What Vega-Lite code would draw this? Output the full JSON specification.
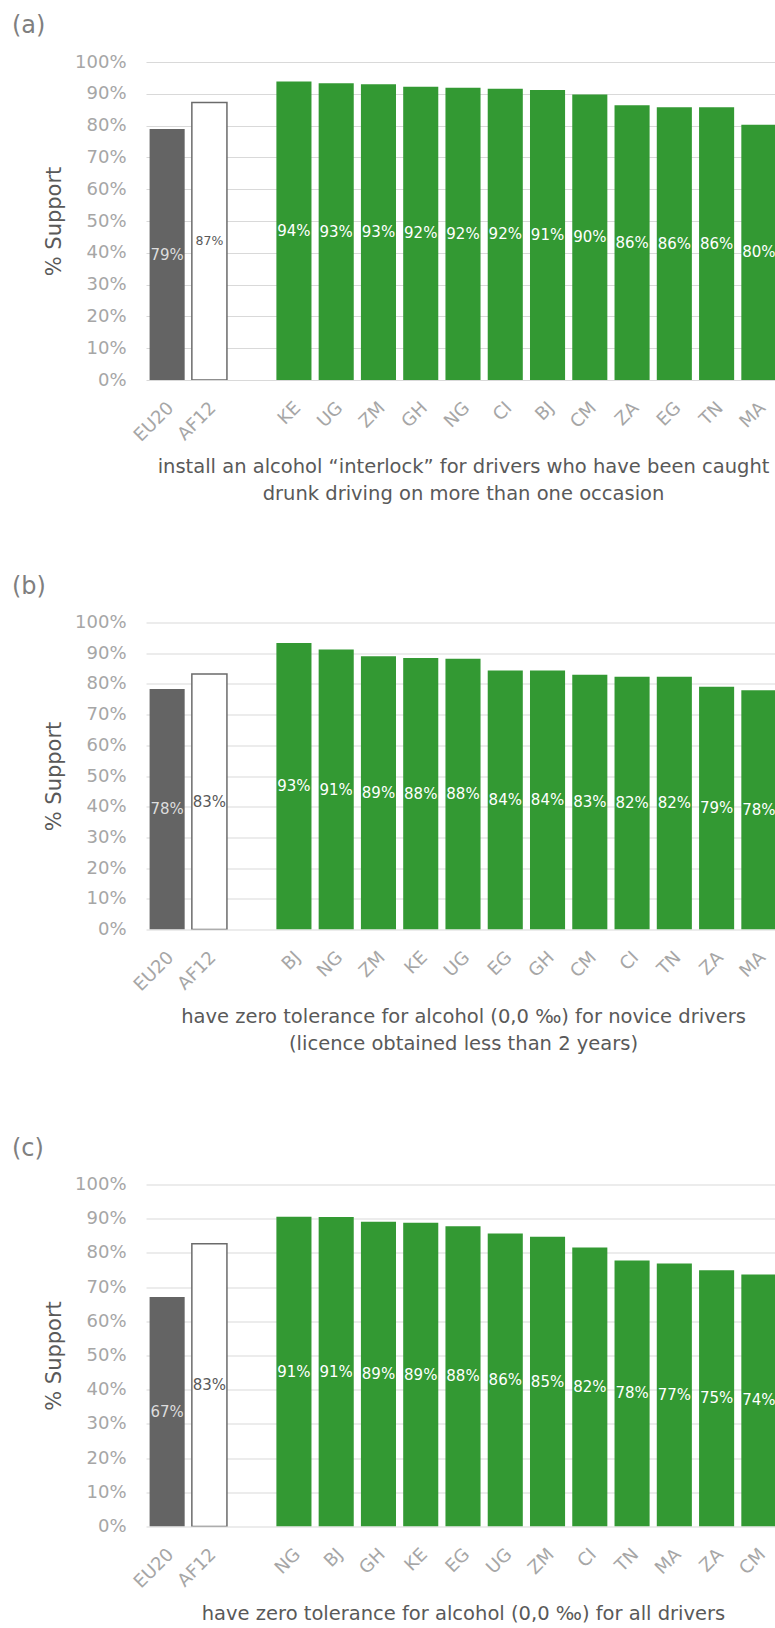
{
  "$schema": "https://vega.github.io/schema/vega-lite/v6.json",
  "padding": {"left": 12, "top": 14, "right": 0, "bottom": 0},
  "background": "#ffffff",
  "config": {
    "font": "DejaVu Sans",
    "view": {"stroke": null},
    "title": {"anchor": "start", "frame": "group", "dx": -134, "fontSize": 24, "fontWeight": "normal", "color": "#7f7f7f", "offset": 15},
    "axisX": {"labelAngle": -45, "labelAlign": "right", "labelBaseline": "middle", "labelFontSize": 18, "labelColor": "#a6a6a6", "labelPadding": 25, "labelOffset": 4, "ticks": false, "domain": false, "grid": false, "titleFontSize": 19.5, "titleColor": "#595959", "titleFontWeight": "normal", "titleLineHeight": 27, "titlePadding": 13},
    "axisY": {"labelFontSize": 18, "labelColor": "#a6a6a6", "labelPadding": 20, "ticks": false, "domain": false, "gridColor": "#d9d9d9", "titleFontSize": 21, "titleColor": "#595959", "titleFontWeight": "normal", "titlePadding": 10}
  },
  "datasets": {
    "a": [
      {"c": "EU20", "g": "EU", "v": 0.789},
      {"c": "AF12", "g": "AF", "v": 0.873},
      {"c": "KE", "g": "C", "v": 0.939},
      {"c": "UG", "g": "C", "v": 0.933},
      {"c": "ZM", "g": "C", "v": 0.930},
      {"c": "GH", "g": "C", "v": 0.922},
      {"c": "NG", "g": "C", "v": 0.919},
      {"c": "CI", "g": "C", "v": 0.916},
      {"c": "BJ", "g": "C", "v": 0.912},
      {"c": "CM", "g": "C", "v": 0.898},
      {"c": "ZA", "g": "C", "v": 0.864},
      {"c": "EG", "g": "C", "v": 0.858},
      {"c": "TN", "g": "C", "v": 0.858},
      {"c": "MA", "g": "C", "v": 0.803}
    ],
    "b": [
      {"c": "EU20", "g": "EU", "v": 0.783},
      {"c": "AF12", "g": "AF", "v": 0.832},
      {"c": "BJ", "g": "C", "v": 0.933},
      {"c": "NG", "g": "C", "v": 0.912},
      {"c": "ZM", "g": "C", "v": 0.890},
      {"c": "KE", "g": "C", "v": 0.884},
      {"c": "UG", "g": "C", "v": 0.882},
      {"c": "EG", "g": "C", "v": 0.844},
      {"c": "GH", "g": "C", "v": 0.844},
      {"c": "CM", "g": "C", "v": 0.830},
      {"c": "CI", "g": "C", "v": 0.823},
      {"c": "TN", "g": "C", "v": 0.823},
      {"c": "ZA", "g": "C", "v": 0.791},
      {"c": "MA", "g": "C", "v": 0.779}
    ],
    "c": [
      {"c": "EU20", "g": "EU", "v": 0.671},
      {"c": "AF12", "g": "AF", "v": 0.827},
      {"c": "NG", "g": "C", "v": 0.906},
      {"c": "BJ", "g": "C", "v": 0.905},
      {"c": "GH", "g": "C", "v": 0.891},
      {"c": "KE", "g": "C", "v": 0.888},
      {"c": "EG", "g": "C", "v": 0.878},
      {"c": "UG", "g": "C", "v": 0.857},
      {"c": "ZM", "g": "C", "v": 0.847},
      {"c": "CI", "g": "C", "v": 0.816},
      {"c": "TN", "g": "C", "v": 0.778},
      {"c": "MA", "g": "C", "v": 0.769},
      {"c": "ZA", "g": "C", "v": 0.749},
      {"c": "CM", "g": "C", "v": 0.737}
    ]
  },
  "vconcat": [
    {
      "spacing": 70.5,
      "vconcat": [
        {
          "width": 629, "height": 318,
          "title": "(a)",
          "data": {"name": "a"},
          "encoding": {
            "x": {"field": "c", "type": "nominal",
              "scale": {"domain": ["EU20", "AF12", " ", "KE", "UG", "ZM", "GH", "NG", "CI", "BJ", "CM", "ZA", "EG", "TN", "MA"], "range": [0, 634], "paddingInner": 0.17, "paddingOuter": 0.085},
              "axis": {"title": ["install an alcohol \u201cinterlock\u201d for drivers who have been caught", "drunk driving on more than one occasion"]}}
          },
          "layer": [
            {"mark": {"type": "bar", "clip": true, "stroke": "#6b6b6b"},
             "encoding": {
               "y": {"field": "v", "type": "quantitative", "scale": {"domain": [0, 1]}, "axis": {"values": [0, 0.1, 0.2, 0.3, 0.4, 0.5, 0.6, 0.7, 0.8, 0.9, 1], "format": ".0%", "title": "% Support"}},
               "color": {"field": "g", "type": "nominal", "scale": {"domain": ["EU", "AF", "C"], "range": ["#646464", "#ffffff", "#339933"]}, "legend": null},
               "strokeWidth": {"condition": {"test": "datum.g === 'AF'", "value": 1.5}, "value": 0}
             }},
            {"mark": {"type": "text", "clip": true, "fontSize": 15, "align": "center", "baseline": "middle"},
             "encoding": {
               "y": {"field": "v", "type": "quantitative", "scale": {"domain": [0, 2]}, "axis": null},
               "text": {"field": "v", "type": "quantitative", "format": ".0%"},
               "size": {"condition": {"test": "datum.g === 'AF'", "value": 12.5}, "value": 15},
               "color": {"condition": [{"test": "datum.g === 'EU'", "value": "#dddddd"}, {"test": "datum.g === 'AF'", "value": "#595959"}], "value": "#ffffff"}
             }}
          ],
          "resolve": {"scale": {"y": "independent"}}
        },
        {
          "width": 629, "height": 307,
          "title": "(b)",
          "data": {"name": "b"},
          "encoding": {
            "x": {"field": "c", "type": "nominal",
              "scale": {"domain": ["EU20", "AF12", " ", "BJ", "NG", "ZM", "KE", "UG", "EG", "GH", "CM", "CI", "TN", "ZA", "MA"], "range": [0, 634], "paddingInner": 0.17, "paddingOuter": 0.085},
              "axis": {"title": ["have zero tolerance for alcohol (0,0 \u2030) for novice drivers", "(licence obtained less than 2 years)"]}}
          },
          "layer": [
            {"mark": {"type": "bar", "clip": true, "stroke": "#6b6b6b"},
             "encoding": {
               "y": {"field": "v", "type": "quantitative", "scale": {"domain": [0, 1]}, "axis": {"values": [0, 0.1, 0.2, 0.3, 0.4, 0.5, 0.6, 0.7, 0.8, 0.9, 1], "format": ".0%", "title": "% Support"}},
               "color": {"field": "g", "type": "nominal", "scale": {"domain": ["EU", "AF", "C"], "range": ["#646464", "#ffffff", "#339933"]}, "legend": null},
               "strokeWidth": {"condition": {"test": "datum.g === 'AF'", "value": 1.5}, "value": 0}
             }},
            {"mark": {"type": "text", "clip": true, "fontSize": 15, "align": "center", "baseline": "middle"},
             "encoding": {
               "y": {"field": "v", "type": "quantitative", "scale": {"domain": [0, 2]}, "axis": null},
               "text": {"field": "v", "type": "quantitative", "format": ".0%"},
               "color": {"condition": [{"test": "datum.g === 'EU'", "value": "#dddddd"}, {"test": "datum.g === 'AF'", "value": "#595959"}], "value": "#ffffff"}
             }}
          ],
          "resolve": {"scale": {"y": "independent"}}
        }
      ]
    },
    {
      "width": 629, "height": 342,
      "title": "(c)",
      "data": {"name": "c"},
      "encoding": {
        "x": {"field": "c", "type": "nominal",
          "scale": {"domain": ["EU20", "AF12", " ", "NG", "BJ", "GH", "KE", "EG", "UG", "ZM", "CI", "TN", "MA", "ZA", "CM"], "range": [0, 634], "paddingInner": 0.17, "paddingOuter": 0.085},
          "axis": {"title": "have zero tolerance for alcohol (0,0 \u2030) for all drivers"}}
      },
      "layer": [
        {"mark": {"type": "bar", "clip": true, "stroke": "#6b6b6b"},
         "encoding": {
           "y": {"field": "v", "type": "quantitative", "scale": {"domain": [0, 1]}, "axis": {"values": [0, 0.1, 0.2, 0.3, 0.4, 0.5, 0.6, 0.7, 0.8, 0.9, 1], "format": ".0%", "title": "% Support"}},
           "color": {"field": "g", "type": "nominal", "scale": {"domain": ["EU", "AF", "C"], "range": ["#646464", "#ffffff", "#339933"]}, "legend": null},
           "strokeWidth": {"condition": {"test": "datum.g === 'AF'", "value": 1.5}, "value": 0}
         }},
        {"mark": {"type": "text", "clip": true, "fontSize": 15, "align": "center", "baseline": "middle"},
         "encoding": {
           "y": {"field": "v", "type": "quantitative", "scale": {"domain": [0, 2]}, "axis": null},
           "text": {"field": "v", "type": "quantitative", "format": ".0%"},
           "color": {"condition": [{"test": "datum.g === 'EU'", "value": "#dddddd"}, {"test": "datum.g === 'AF'", "value": "#595959"}], "value": "#ffffff"}
         }}
      ],
      "resolve": {"scale": {"y": "independent"}}
    }
  ],
  "spacing": 83.5
}
